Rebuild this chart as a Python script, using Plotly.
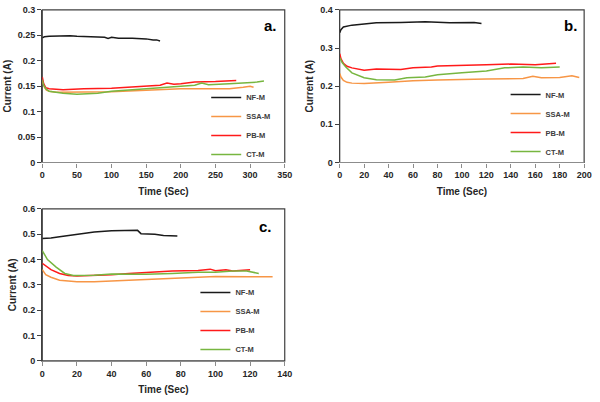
import plotly.graph_objects as go

# ---------------- data ----------------
series_names = ["NF-M", "SSA-M", "PB-M", "CT-M"]
series_colors = ["#1a1a1a", "#F79646", "#FF1A1A", "#77B640"]

# Panel a
a_nf_t = [0, 3, 10, 25, 40, 50, 55, 70, 90, 95, 100, 110, 130, 150, 160, 165, 170]
a_nf_i = [0.245, 0.247, 0.248, 0.249, 0.249, 0.248, 0.248, 0.247, 0.246, 0.244, 0.246, 0.244, 0.244, 0.243, 0.241, 0.241, 0.239]
a_ssa_t = [0, 3, 6, 10, 20, 50, 100, 150, 200, 250, 270, 290, 300, 305]
a_ssa_i = [0.160, 0.148, 0.142, 0.140, 0.138, 0.138, 0.139, 0.142, 0.145, 0.145, 0.145, 0.148, 0.150, 0.148]
a_pb_t = [0, 2, 5, 10, 30, 60, 100, 140, 170, 180, 190, 200, 220, 250, 280]
a_pb_i = [0.168, 0.155, 0.147, 0.145, 0.143, 0.145, 0.146, 0.149, 0.152, 0.156, 0.154, 0.155, 0.158, 0.159, 0.161]
a_ct_t = [0, 2, 5, 10, 30, 50, 80, 100, 130, 160, 180, 200, 220, 230, 240, 270, 300, 310, 320]
a_ct_i = [0.163, 0.152, 0.145, 0.140, 0.136, 0.134, 0.136, 0.140, 0.143, 0.146, 0.148, 0.150, 0.152, 0.156, 0.153, 0.155, 0.157, 0.158, 0.160]

# Panel b
b_nf_t = [0, 1, 3, 6, 10, 20, 30, 50, 70, 90, 110, 116]
b_nf_i = [0.340, 0.348, 0.355, 0.358, 0.360, 0.363, 0.366, 0.367, 0.369, 0.366, 0.367, 0.364]
b_ssa_t = [0, 1, 3, 6, 10, 20, 40, 60, 80, 100, 120, 150, 158, 165, 180, 190, 196]
b_ssa_i = [0.233, 0.224, 0.215, 0.210, 0.208, 0.207, 0.210, 0.214, 0.216, 0.218, 0.219, 0.220, 0.226, 0.222, 0.223, 0.227, 0.223]
b_pb_t = [0, 1, 3, 6, 10, 20, 30, 50, 60, 75, 80, 100, 120, 140, 160, 177]
b_pb_i = [0.285, 0.272, 0.260, 0.252, 0.248, 0.242, 0.245, 0.244, 0.248, 0.250, 0.253, 0.254, 0.256, 0.258, 0.256, 0.260]
b_ct_t = [0, 2, 5, 10, 20, 30, 45, 55, 70, 80, 100, 110, 120, 135, 150, 165, 180]
b_ct_i = [0.275, 0.262, 0.250, 0.235, 0.222, 0.217, 0.216, 0.222, 0.224, 0.230, 0.235, 0.238, 0.240, 0.248, 0.250, 0.248, 0.250]

# Panel c
c_nf_t = [0, 5, 10, 20, 25, 30, 40, 50, 55, 57, 65, 70, 76, 78]
c_nf_i = [0.483, 0.485, 0.490, 0.500, 0.505, 0.508, 0.513, 0.514, 0.515, 0.502, 0.500, 0.495, 0.495, 0.493]
c_ssa_t = [0, 2, 5, 10, 20, 30, 40, 55, 70, 90, 100, 120, 133]
c_ssa_i = [0.360, 0.340, 0.330, 0.318, 0.312, 0.312, 0.315, 0.320, 0.325, 0.330, 0.333, 0.332, 0.332]
c_pb_t = [0, 2, 5, 10, 15, 20, 30, 40, 50, 60, 75, 90, 97, 100, 106, 110, 120]
c_pb_i = [0.385, 0.375, 0.360, 0.345, 0.337, 0.335, 0.337, 0.340, 0.345, 0.350, 0.355, 0.357, 0.362, 0.356, 0.360, 0.355, 0.360]
c_ct_t = [0, 3, 8, 13, 18, 30, 40, 60, 75, 90, 100, 110, 118, 125]
c_ct_i = [0.435, 0.400, 0.370, 0.345, 0.337, 0.338, 0.343, 0.342, 0.345, 0.350, 0.350, 0.355, 0.355, 0.345]

panel_labels = ["a.", "b.", "c."]
x_ranges = [[0, 350], [0, 200], [0, 140]]
x_dticks = [50, 20, 20]
y_ranges = [[0, 0.3], [0, 0.4], [0, 0.6]]
y_dticks = [0.05, 0.1, 0.1]

panels = [
    [(a_nf_t, a_nf_i), (a_ssa_t, a_ssa_i), (a_pb_t, a_pb_i), (a_ct_t, a_ct_i)],
    [(b_nf_t, b_nf_i), (b_ssa_t, b_ssa_i), (b_pb_t, b_pb_i), (b_ct_t, b_ct_i)],
    [(c_nf_t, c_nf_i), (c_ssa_t, c_ssa_i), (c_pb_t, c_pb_i), (c_ct_t, c_ct_i)],
]

# ---------------- layout geometry (pixels) ----------------
W, H = 600, 402
plot_boxes = [  # left, right, top, bottom in pixels
    (40, 287, 5, 161.5),
    (343, 592, 5, 161.5),
    (40, 287, 209, 365),
]
legend_pos = [(207, 80), (512, 77), (196, 280)]  # left, top in px
label_pos = [(272, 21), (578, 21), (267, 227)]

FONT = "Liberation Sans"
fig = go.Figure()

for p, data in enumerate(panels):
    sfx = "" if p == 0 else str(p + 1)
    leg = "legend" if p == 0 else "legend" + str(p + 1)
    for k, (t, i) in enumerate(data):
        fig.add_trace(go.Scatter(
            x=t, y=i, mode="lines", name=series_names[k],
            line=dict(color=series_colors[k], width=1.5),
            xaxis="x" + sfx, yaxis="y" + sfx, legend=leg,
        ))

layout = dict(
    width=W, height=H, margin=dict(l=0, r=0, t=0, b=0),
    paper_bgcolor="white", plot_bgcolor="white",
    font=dict(family=FONT, size=9, color="#262626"),
    showlegend=True,
)
annotations = []
shapes = []
for p in range(3):
    sfx = "" if p == 0 else str(p + 1)
    l, r, t, b = plot_boxes[p]
    xd = [l / W, r / W]
    yd = [1 - b / H, 1 - t / H]
    layout["xaxis" + sfx] = dict(
        domain=xd, range=x_ranges[p], dtick=x_dticks[p], tick0=0,
        anchor="y" + sfx, showgrid=False, zeroline=False,
        showline=True, linecolor="#8c8c8c", linewidth=1.2,
        ticks="outside", ticklen=4, tickcolor="#8c8c8c", tickwidth=1,
        tickfont=dict(family=FONT, size=9, weight="bold", color="#262626"),
        title=dict(text="Time (Sec)", font=dict(family=FONT, size=10, weight="bold", color="#262626"), standoff=8),
    )
    layout["yaxis" + sfx] = dict(
        domain=yd, range=y_ranges[p], dtick=y_dticks[p], tick0=0,
        anchor="x" + sfx, showgrid=False, zeroline=False,
        showline=True, linecolor="#404040", linewidth=1.2,
        ticks="outside", ticklen=4, tickcolor="#404040", tickwidth=1,
        tickfont=dict(family=FONT, size=9, weight="bold", color="#262626"),
        title=dict(text="Current (A)", font=dict(family=FONT, size=10, weight="bold", color="#262626"), standoff=4),
    )
    legname = "legend" if p == 0 else "legend" + str(p + 1)
    lx, ly = legend_pos[p]
    layout[legname] = dict(
        x=lx / W, y=1 - ly / H, xanchor="left", yanchor="top",
        xref="paper", yref="paper", bgcolor="rgba(0,0,0,0)",
        font=dict(family=FONT, size=7.5, weight="bold", color="#404040"),
        itemwidth=30, tracegroupgap=0,
    )
    shapes.append(dict(
        type="rect", xref="x" + sfx + " domain", yref="y" + sfx + " domain",
        x0=0, x1=1, y0=0, y1=1, line=dict(color="#404040", width=1.2),
        fillcolor="rgba(0,0,0,0)", layer="below",
    ))
    px, py = label_pos[p]
    annotations.append(dict(
        text=panel_labels[p], x=px / W, y=1 - py / H, xref="paper", yref="paper",
        showarrow=False, xanchor="center", yanchor="middle",
        font=dict(family=FONT, size=15, weight="bold", color="#000000"),
    ))

layout["annotations"] = annotations
layout["shapes"] = shapes
fig.update_layout(**layout)
fig.write_html("out.html")
